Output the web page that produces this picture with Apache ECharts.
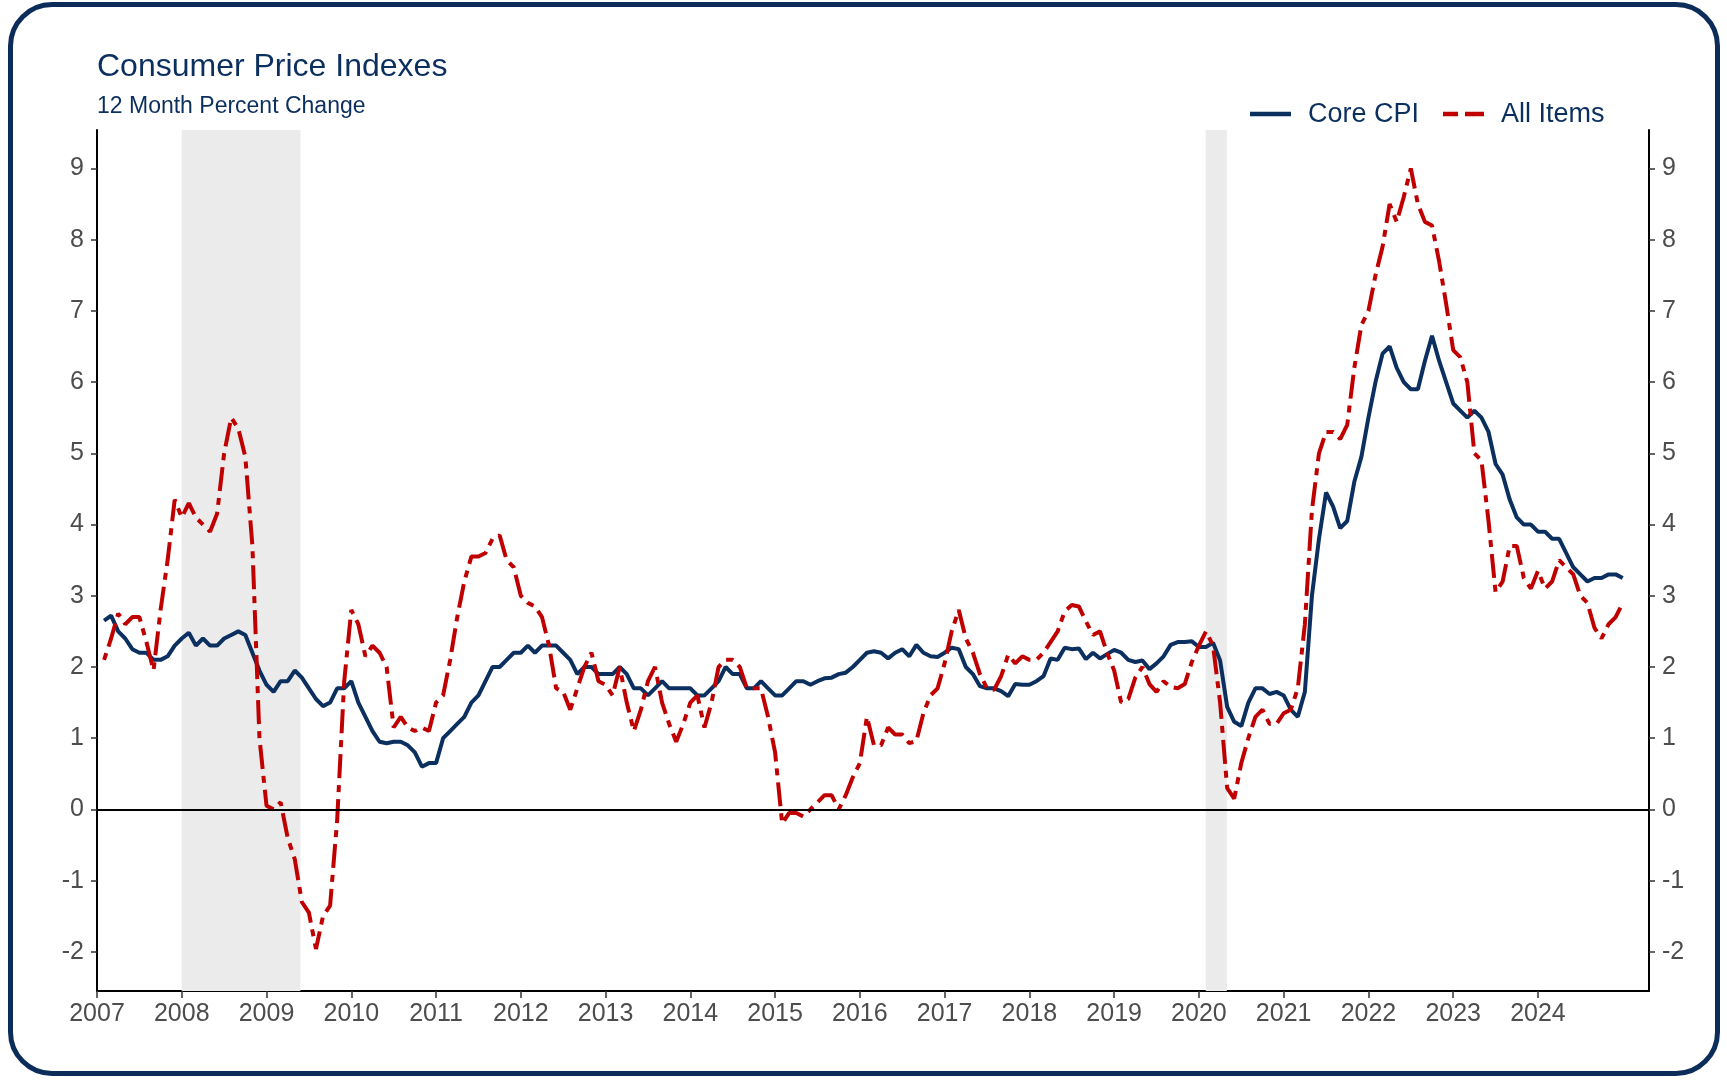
<!DOCTYPE html>
<html>
<head>
<meta charset="utf-8">
<title>Consumer Price Indexes</title>
<script src="https://cdn.jsdelivr.net/npm/echarts@6/dist/echarts.min.js"></script>
<style>
  html, body { margin: 0; padding: 0; background: #fff; }
  #chart { position: absolute; left: 0; top: 0; width: 1727px; height: 1081px; }
  /* rounded navy frame round the whole figure */
  #frame {
    position: absolute; left: 8px; top: 2px; width: 1702px; height: 1064px;
    border: 5px solid #0c2d5a; border-radius: 44px; pointer-events: none;
  }
</style>
</head>
<body>
<div id="chart"></div>
<div id="frame"></div>
<script>
// monthly 12-month % change, Jan 2007 .. Dec 2024
const startYear = 2007;

const coreCPI = [
  2.65, 2.72, 2.5, 2.4, 2.25, 2.2, 2.2, 2.1, 2.1, 2.15, 2.3, 2.4,
  2.48, 2.3, 2.4, 2.3, 2.3, 2.4, 2.45, 2.5, 2.45, 2.2, 1.95, 1.75,
  1.65, 1.8, 1.8, 1.95, 1.85, 1.7, 1.55, 1.45, 1.5, 1.7, 1.7, 1.8,
  1.5, 1.3, 1.1, 0.95, 0.93, 0.95, 0.95, 0.9, 0.8, 0.6, 0.65, 0.65,
  1.0, 1.1, 1.2, 1.3, 1.5, 1.6, 1.8, 2.0, 2.0, 2.1, 2.2, 2.2,
  2.3, 2.2, 2.3, 2.3, 2.3, 2.2, 2.1, 1.9, 2.0, 2.0, 1.9, 1.9,
  1.9, 2.0, 1.9, 1.7, 1.7, 1.6, 1.7, 1.8, 1.7, 1.7, 1.7, 1.7,
  1.6, 1.6, 1.7, 1.8, 2.0, 1.9, 1.9, 1.7, 1.7, 1.8, 1.7, 1.6,
  1.6, 1.7, 1.8, 1.8, 1.75, 1.8, 1.84, 1.85, 1.9, 1.92, 2.0, 2.1,
  2.2, 2.22, 2.2, 2.12, 2.2, 2.25, 2.15, 2.31, 2.2, 2.15, 2.14, 2.2,
  2.27, 2.25, 2.0, 1.9, 1.73, 1.7, 1.7, 1.66, 1.59, 1.76, 1.75, 1.75,
  1.8, 1.87, 2.12, 2.1, 2.27, 2.25, 2.26, 2.11, 2.2, 2.12, 2.18, 2.24,
  2.2, 2.1, 2.07, 2.09, 1.97, 2.05, 2.15, 2.31, 2.35, 2.35, 2.36, 2.28,
  2.28, 2.34, 2.09, 1.44, 1.23, 1.17, 1.5, 1.7, 1.7, 1.62, 1.65, 1.6,
  1.4, 1.3, 1.65, 3.0, 3.8, 4.45, 4.25, 3.95, 4.05, 4.6, 4.95, 5.5,
  6.0, 6.4, 6.5, 6.2, 6.0, 5.9, 5.9, 6.3, 6.65, 6.3, 6.0, 5.7,
  5.6, 5.5, 5.6, 5.5, 5.3, 4.85, 4.7, 4.35, 4.1, 4.0, 4.0, 3.9,
  3.9, 3.8, 3.8, 3.6, 3.4, 3.3, 3.2, 3.25, 3.25, 3.3, 3.3, 3.25
];

const allItems = [
  2.1, 2.4, 2.75, 2.6, 2.7, 2.7, 2.35, 1.95, 2.8, 3.5, 4.35, 4.1,
  4.3, 4.1, 4.0, 3.9, 4.15, 5.0, 5.5, 5.35, 4.95, 3.7, 1.0, 0.05,
  0.0, 0.1, -0.4, -0.7, -1.3, -1.45, -1.96, -1.5, -1.35, -0.15, 1.8, 2.8,
  2.6, 2.15, 2.3, 2.2, 2.0, 1.15, 1.3, 1.15, 1.1, 1.15, 1.1, 1.5,
  1.6, 2.1, 2.7, 3.2, 3.55, 3.55, 3.6, 3.8, 3.85, 3.5, 3.4, 3.0,
  2.9, 2.85, 2.7, 2.3, 1.7, 1.65, 1.4, 1.7, 2.0, 2.2, 1.8, 1.75,
  1.6, 2.0, 1.5, 1.1, 1.4, 1.8, 2.0, 1.5, 1.2, 0.95, 1.2, 1.5,
  1.6, 1.15, 1.5, 2.0, 2.1, 2.1, 2.0, 1.7, 1.7, 1.7, 1.3, 0.8,
  -0.2, -0.05, -0.05, -0.1, 0.0, 0.1, 0.2, 0.2, 0.0, 0.2, 0.45, 0.65,
  1.3, 0.9, 0.9, 1.15, 1.05, 1.05, 0.93, 0.96, 1.35, 1.6, 1.7, 2.05,
  2.5, 2.8, 2.4, 2.2, 1.9, 1.7, 1.68, 1.87, 2.17, 2.05, 2.15, 2.1,
  2.1, 2.2, 2.35, 2.5, 2.78, 2.87, 2.85, 2.64, 2.45, 2.5, 2.2, 1.95,
  1.5, 1.55, 1.85, 2.0, 1.76, 1.65, 1.8, 1.72, 1.7, 1.76, 2.07, 2.3,
  2.5, 2.3, 1.5, 0.3, 0.15, 0.65, 1.0, 1.3, 1.4, 1.2, 1.2, 1.35,
  1.4, 1.7, 2.6, 4.2, 5.0, 5.3, 5.3, 5.2, 5.4, 6.2, 6.8, 7.0,
  7.5, 7.9, 8.5, 8.25, 8.6, 9.0, 8.5, 8.25, 8.2, 7.7, 7.1, 6.45,
  6.35, 6.0, 5.0, 4.9, 4.05, 3.05, 3.2, 3.7, 3.7, 3.25, 3.1, 3.35,
  3.1, 3.2, 3.5, 3.4, 3.3, 3.0, 2.9, 2.55, 2.4, 2.6, 2.7, 2.9
];

const yearTicks = [2007, 2008, 2009, 2010, 2011, 2012, 2013, 2014, 2015,
  2016, 2017, 2018, 2019, 2020, 2021, 2022, 2023, 2024];
const yTicks = [-2, -1, 0, 1, 2, 3, 4, 5, 6, 7, 8, 9];

// recession shading, decimal years
const recessions = [[2008.0, 2009.4], [2020.08, 2020.33]];

const navy = '#0b2f5e';
const red = '#c00000';
const grey = '#4d4d4d';
const font = '"Liberation Sans", Arial, sans-serif';
const redDash = [7, 7, 24, 7];

// each month is placed at the end of its month
function toPoints(values) {
  return values.map((v, i) => [startYear + (i + 1) / 12, v]);
}

function yAxis(position) {
  return {
    type: 'value',
    position: position,
    min: -2.55,
    max: 9.54,
    splitLine: { show: false },
    axisLine: { show: true, onZero: false, lineStyle: { color: '#000', width: 2 } },
    axisTick: { show: true, customValues: yTicks, length: 6, lineStyle: { color: '#333', width: 1.5 } },
    axisLabel: {
      customValues: yTicks,
      color: grey,
      fontSize: 25,
      fontFamily: font,
      margin: 13,
      formatter: v => String(v)
    }
  };
}

// legend drawn by hand: a key line then its label
function legendItem(x, label, color, dash) {
  return [
    {
      type: 'line',
      shape: { x1: x, y1: 114, x2: x + 41, y2: 114 },
      style: { stroke: color, lineWidth: 4.5, lineDash: dash }
    },
    {
      type: 'text',
      x: x + 58,
      y: 115,
      style: {
        text: label, fill: navy, fontSize: 27, fontFamily: font,
        verticalAlign: 'middle', align: 'left'
      }
    }
  ];
}

const chart = echarts.init(document.getElementById('chart'), null, { renderer: 'canvas' });

chart.setOption({
  backgroundColor: '#fff',
  animation: false,
  title: {
    text: 'Consumer Price Indexes',
    subtext: '12 Month Percent Change',
    left: 92,
    top: 46,
    itemGap: 12,
    textStyle: { color: navy, fontSize: 32, fontWeight: 'normal', fontFamily: font },
    subtextStyle: { color: navy, fontSize: 23, fontFamily: font }
  },
  graphic: [
    ...legendItem(1250, 'Core CPI', navy, null),
    ...legendItem(1443, 'All Items', red, [15, 7, 19, 0])
  ],
  grid: { left: 97, right: 78, top: 130, bottom: 90, containLabel: false },
  xAxis: {
    type: 'value',
    min: 2007,
    max: 2025.31,
    splitLine: { show: false },
    axisLine: { show: true, onZero: false, lineStyle: { color: '#000', width: 2 } },
    axisTick: { show: true, customValues: yearTicks, length: 7, lineStyle: { color: '#333', width: 1.5 } },
    axisLabel: {
      customValues: yearTicks,
      color: grey,
      fontSize: 25,
      fontFamily: font,
      margin: 11,
      formatter: v => String(v)
    }
  },
  yAxis: [yAxis('left'), yAxis('right')],
  series: [
    {
      name: 'Core CPI',
      type: 'line',
      data: toPoints(coreCPI),
      symbol: 'none',
      z: 3,
      lineStyle: { color: navy, width: 4 },
      itemStyle: { color: navy },
      markArea: {
        silent: true,
        itemStyle: { color: '#ebebeb' },
        data: recessions.map(r => [{ xAxis: r[0] }, { xAxis: r[1] }])
      },
      markLine: {
        silent: true,
        symbol: 'none',
        label: { show: false },
        lineStyle: { color: '#000', width: 2, type: 'solid' },
        data: [{ yAxis: 0 }]
      }
    },
    {
      name: 'All Items',
      type: 'line',
      data: toPoints(allItems),
      symbol: 'none',
      z: 4,
      lineStyle: { color: red, width: 4, type: redDash },
      itemStyle: { color: red }
    }
  ]
});
</script>
</body>
</html>
